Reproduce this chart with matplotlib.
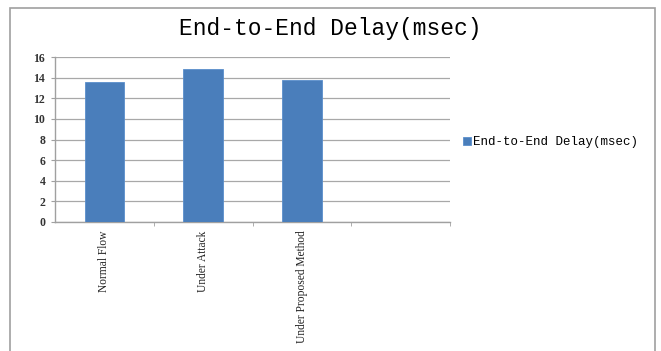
import matplotlib
matplotlib.use("Agg")
import matplotlib.pyplot as plt
from matplotlib.patches import Rectangle

categories = ["Normal Flow", "Under Attack", "Under Proposed Method"]
values = [13.6, 14.85, 13.8]
yticks = [0, 2, 4, 6, 8, 10, 12, 14, 16]
title = "End-to-End Delay(msec)"
series_name = "End-to-End Delay(msec)"

W, H = 661, 351
fig = plt.figure(figsize=(W / 100, H / 100), dpi=100)
fig.patch.set_facecolor("white")

# outer chart border
fig.add_artist(Rectangle((10 / W, -0.01), 645 / W, 1 - 8 / H + 0.01,
                         transform=fig.transFigure, fill=False,
                         edgecolor="#a0a0a0", linewidth=1.2))

ax = fig.add_axes([55 / W, 1 - 222 / H, (450 - 55) / W, (222 - 57) / H])
color = "#4a7ebb"
x = list(range(len(categories)))
bars = ax.bar(x, values, width=0.4, color=color, edgecolor="#5b8fcc",
              linewidth=0.6, label=series_name, zorder=3)

ax.set_xlim(-0.5, 3.5)
ax.set_ylim(0, 16)
ax.set_yticks(yticks)
ax.set_yticklabels([str(t) for t in yticks], fontfamily="Liberation Serif",
                   fontsize=8.5, color="#333333", fontweight="bold")
ax.yaxis.grid(True, color="#a8a8a8", linewidth=0.9, zorder=0)
ax.set_axisbelow(True)

ax.set_xticks(x)
ax.set_xticklabels(categories, rotation=90, fontfamily="Liberation Serif",
                   fontsize=8.3, color="#222222", va="top")
ax.tick_params(axis="x", length=0, pad=6)
ax.set_xticks([0.5, 1.5, 2.5, 3.5], minor=True)
ax.tick_params(axis="x", which="minor", length=3, color="#a0a0a0")
ax.tick_params(axis="y", length=3, color="#a0a0a0", pad=4)

for s in ["top", "right"]:
    ax.spines[s].set_visible(False)
for s in ["left", "bottom"]:
    ax.spines[s].set_color("#a0a0a0")
    ax.spines[s].set_linewidth(1.0)

fig.text(0.5, 1 - 29 / H, title, ha="center", va="center",
         fontfamily="Liberation Mono", fontsize=16.5, fontweight="normal",
         color="#000000")

leg = ax.legend(loc="center left", bbox_to_anchor=(452 / W, 1 - 142 / H),
                bbox_transform=fig.transFigure, frameon=False,
                prop={"family": "Liberation Mono", "size": 9},
                handlelength=0.6, handleheight=0.6, handletextpad=0.2)

fig.savefig("out.png", dpi=100, facecolor="white")
